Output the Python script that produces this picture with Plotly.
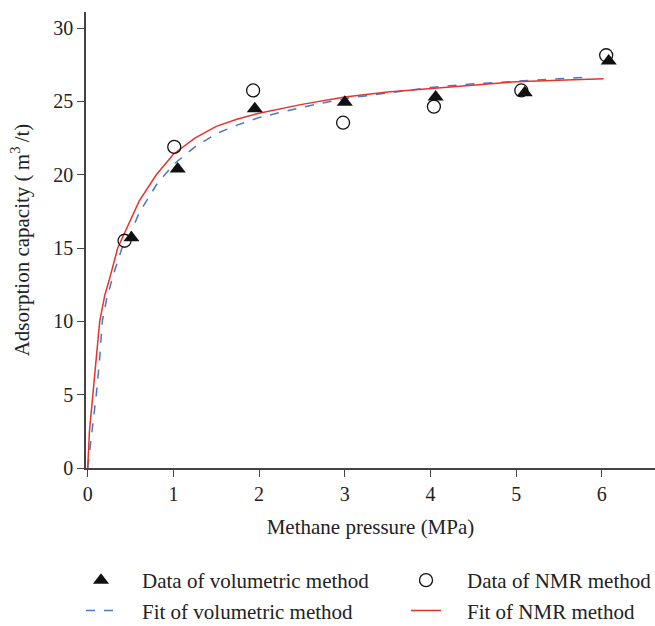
import plotly.graph_objects as go

# Data points
vol_p = [0.51, 1.05, 1.95, 3.0, 4.06, 5.1, 6.08]
vol_v = [15.7, 20.4, 24.5, 24.95, 25.3, 25.6, 27.75]

nmr_p = [0.43, 1.01, 1.93, 2.98, 4.04, 5.06, 6.05]
nmr_v = [15.5, 21.9, 25.75, 23.55, 24.65, 25.75, 28.15]

# Fitted curves
fit_nmr_p = [0, 0.02, 0.06, 0.1, 0.14, 0.2, 0.25, 0.35, 0.45, 0.6, 0.8, 1.0, 1.25,
             1.5, 1.75, 2.0, 2.5, 3.0, 3.5, 4.0, 4.5, 5.0, 5.5, 6.02]
fit_nmr_v = [0, 2.5, 5.0, 7.5, 10.0, 11.8, 12.8, 15.0, 16.3, 18.2, 20.0, 21.4, 22.5,
             23.3, 23.8, 24.2, 24.8, 25.3, 25.65, 25.9, 26.15, 26.35, 26.45, 26.55]

fit_vol_p = [0, 0.03, 0.06, 0.1, 0.14, 0.17, 0.22, 0.3, 0.4, 0.5, 0.6, 0.8, 1.0, 1.25,
             1.5, 1.75, 2.0, 2.5, 3.0, 3.5, 4.0, 4.5, 5.0, 5.5, 5.85]
fit_vol_v = [0, 1.5, 3.0, 5.0, 7.5, 10.0, 11.5, 13.2, 15.0, 16.0, 17.4, 19.3, 20.7, 21.9,
             22.8, 23.4, 23.9, 24.6, 25.2, 25.6, 25.95, 26.2, 26.4, 26.55, 26.65]

x_ticks = [0, 1, 2, 3, 4, 5, 6]
y_ticks = [0, 5, 10, 15, 20, 25, 30]

FONT = "Liberation Serif"
BLUE = "#4a78c8"
RED = "#e8322b"
INK = "#111111"
SP = "\u00a0" * 4

fig = go.Figure()
fig.add_trace(go.Scatter(x=fit_vol_p, y=fit_vol_v, mode="lines", legend="legend",
                         legendrank=2, name=SP + "Fit of volumetric method",
                         line=dict(color=BLUE, width=1.5, dash="dash")))
fig.add_trace(go.Scatter(x=fit_nmr_p, y=fit_nmr_v, mode="lines", legend="legend2",
                         legendrank=2, name=SP + "Fit of NMR method",
                         line=dict(color=RED, width=1.5)))
fig.add_trace(go.Scatter(x=vol_p, y=vol_v, mode="markers", legend="legend",
                         legendrank=1, name=SP + "Data of volumetric method",
                         marker=dict(symbol="triangle-up", size=14, color=INK)))
fig.add_trace(go.Scatter(x=nmr_p, y=nmr_v, mode="markers", legend="legend2",
                         legendrank=1, name=SP + "Data of NMR method",
                         marker=dict(symbol="circle-open", size=13, color=INK,
                                     line=dict(width=1.3, color=INK))))

axis_common = dict(showline=True, linecolor="#444444", linewidth=1.5, ticks="outside",
                   ticklen=7, tickwidth=1.3, tickcolor="#444444", showgrid=False,
                   zeroline=False, tickfont=dict(family=FONT, size=20, color="#222222"))

legend_common = dict(orientation="v", yanchor="top", xanchor="left", y=-0.2018,
                     traceorder="normal", tracegroupgap=0,
                     font=dict(family=FONT, size=21, color="#222222"),
                     bgcolor="rgba(0,0,0,0)")

fig.update_layout(
    width=655, height=626,
    margin=dict(l=86, r=0, t=12, b=158, autoexpand=False),
    plot_bgcolor="white", paper_bgcolor="white",
    font=dict(family=FONT, color="#222222"),
    xaxis=dict(range=[-0.02, 6.62], tickvals=x_ticks,
               title=dict(text="Methane pressure (MPa)", font=dict(family=FONT, size=21), standoff=16),
               **axis_common),
    yaxis=dict(range=[0, 31.1], tickvals=y_ticks,
               title=dict(text="Adsorption capacity (\u2009m<sup>3</sup>\u2009/t)",
                          font=dict(family=FONT, size=21), standoff=18),
               **axis_common),
    legend=dict(x=-0.0088, **legend_common),
    legend2=dict(x=0.5624, **legend_common),
)

fig.write_html("out.html")
